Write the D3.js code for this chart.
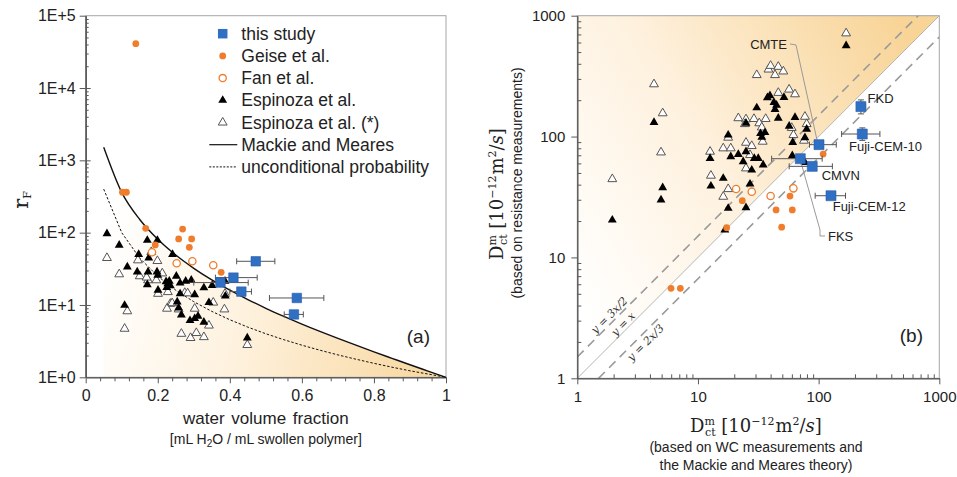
<!DOCTYPE html>
<html>
<head>
<meta charset="utf-8">
<script src="https://cdn.jsdelivr.net/npm/d3@7"></script>
<style>
  body { margin: 0; background: #fff; }
  svg text { font-family: "Liberation Sans", Arial, sans-serif; }
</style>
</head>
<body>
<div id="app"></div>
<script>
// ---------- panel (a): r_F vs water volume fraction ----------
const phiGrid = [0.05, 0.1, 0.15, 0.2, 0.25, 0.3, 0.35, 0.4, 0.45, 0.5, 0.55, 0.6, 0.65, 0.7, 0.75, 0.8, 0.85, 0.9, 0.95, 1];
const mackieRF = [1521, 361, 152, 81, 49, 32.1, 22.2, 16, 11.9, 9, 6.95, 5.44, 4.31, 3.45, 2.78, 2.25, 1.83, 1.49, 1.22, 1];
const uncondRF = [400, 100, 44.4, 25, 16, 11.1, 8.16, 6.25, 4.94, 4, 3.31, 2.78, 2.37, 2.04, 1.78, 1.56, 1.38, 1.23, 1.11, 1];

// [phi, rF, phi low, phi high]
const studyA = [
  [0.472, 40.2, 0.419, 0.525], [0.41, 23.9, 0.36, 0.476], [0.374, 20.4, 0.3, 0.451],
  [0.432, 15.3, 0.40, 0.46], [0.586, 12.5, 0.51, 0.661], [0.578, 7.4, 0.551, 0.604]
];
const geiseA = [
  [0.139, 41100], [0.102, 362], [0.113, 362], [0.1665, 115], [0.269, 112], [0.258, 82],
  [0.294, 82], [0.193, 67.6], [0.2876, 62.8], [0.376, 28.3]
];
const fanA = [[0.184, 53.6], [0.2525, 37.7], [0.296, 40.2], [0.354, 35.4]];
const espA = [
  [0.059, 97], [0.093, 67], [0.171, 78.5], [0.199, 78.5], [0.147, 50], [0.175, 44.7], [0.241, 50],
  [0.1155, 33.6], [0.143, 28.6], [0.173, 28.6], [0.198, 28.6], [0.2, 25.8], [0.171, 19.1], [0.228, 19.7],
  [0.232, 21.3], [0.2515, 25], [0.262, 20.1], [0.2775, 21.3], [0.293, 22], [0.328, 17.3], [0.2007, 16],
  [0.262, 14.3], [0.3025, 13.9], [0.108, 9.9], [0.254, 11], [0.258, 9.1], [0.2655, 7.3], [0.2895, 6.1],
  [0.3025, 6.5], [0.3117, 7], [0.328, 5.8], [0.3866, 21.3], [0.351, 18.7], [0.3875, 13.3], [0.342, 10.8],
  [0.4485, 3.5], [0.225, 17.5], [0.235, 18.5], [0.223, 21]
];
const espStarA = [
  [0.059, 44.7], [0.093, 26.6], [0.182, 54], [0.145, 41.5], [0.199, 40.6], [0.15, 25], [0.173, 22],
  [0.196, 22], [0.2007, 14.3], [0.228, 15.1], [0.275, 14.7], [0.235, 10.4], [0.2256, 8.9], [0.258, 8.7],
  [0.3025, 8.9], [0.1155, 8.2], [0.108, 4.7], [0.2655, 4.0], [0.291, 3.5], [0.307, 4.1], [0.328, 3.6],
  [0.3866, 14.3], [0.385, 8.7], [0.342, 5.2], [0.4485, 2.8], [0.2125, 27.4], [0.283, 14.5], [0.24, 10.6],
  [0.354, 10.8], [0.169, 24]
];

// ---------- panel (b): D_ct resistance vs D_ct WC ----------
// [x, y, x low, x high, y low, y high, name]
const studyB = [
  [224, 177, 207, 245, 154, 201, "FKD"],
  [230, 105, 155, 322, 93, 118, "Fuji-CEM-10"],
  [100.7, 85.7, 84, 140, 85.7, 85.7, "CMTE"],
  [70.5, 65.6, 40.8, 107, 65.6, 65.6, "FKS"],
  [88.5, 56.7, 57, 130, 56.7, 56.7, "CMVN"],
  [126.6, 32.4, 93.6, 167, 32.4, 32.4, "Fuji-CEM-12"]
];
const geiseB = [
  [109, 71.7], [23.3, 29.5], [17.3, 17.6], [57.9, 32.2], [44.4, 24.7], [60.5, 24.7], [49.4, 17.8],
  [5.98, 5.55], [7.14, 5.55]
];
const fanB = [[20.7, 36.8], [27.9, 35], [40, 32.2], [61.8, 37.3]];
const espB = [
  [1.95, 20.4], [4.32, 131], [5.1, 37.8], [4.94, 29.9], [12.6, 66], [12.8, 39], [16.2, 45.2], [17.8, 25.5],
  [25, 25.8], [16.7, 16.9], [17.8, 103], [18.7, 68.2], [21.6, 71.3], [25, 75], [23.7, 62], [27.9, 52.9],
  [27, 40.5], [25, 129], [29.3, 66], [31.6, 66], [34.7, 58.2], [30.7, 173], [33, 106], [33.8, 98.6],
  [35.9, 108], [37.6, 210], [39.5, 218], [42.6, 192], [44.8, 182], [43.5, 168], [46.3, 142], [51.6, 211],
  [57, 122], [63.7, 144], [61, 89.6], [60.5, 69.5], [77, 98], [79.6, 115], [77, 61.2], [169, 565]
];
const espStarB = [
  [1.95, 44.5], [4.32, 271], [5.1, 156], [4.94, 74], [12.6, 75], [12.8, 47.5], [16.2, 31.8], [17.8, 36.8],
  [16.2, 80], [18.7, 80], [17.8, 98], [21.6, 142], [25, 139], [24.5, 127], [29.1, 140], [32.2, 129],
  [33.8, 119], [36.4, 140], [25, 89], [27.9, 83.6], [27, 70.4], [25, 54.6], [34.4, 90.8], [30.7, 323],
  [38.4, 359], [40, 385], [46.3, 378], [51, 346], [43.5, 323], [46.3, 230], [56.9, 245], [63.7, 224],
  [59.8, 118], [61.8, 103], [77, 146], [79.6, 127], [75.6, 92.5], [169, 715]
];
const guideRatios = [1.5, 1, 2 / 3];
const guideNames = ["y = 3x/2", "y = x", "y = 2x/3"];

const legendItems = ["this study", "Geise et al.", "Fan et al.", "Espinoza et al.", "Espinoza et al. (*)", "Mackie and Meares", "unconditional probability"];

// ---------- drawing ----------
const width = 957, height = 477;
const BLUE = "#2f6fc4", ORANGE = "#ef7d2c", AXIS = "#595959", FRAME = "#a6a6a6";

const svg = d3.select("#app").append("svg").attr("width", width).attr("height", height);
svg.append("rect").attr("width", width).attr("height", height).attr("fill", "#fff");
const defs = svg.append("defs");

function gradient(id, x1, y1, x2, y2, stops) {
  const lg = defs.append("linearGradient").attr("id", id)
    .attr("x1", x1).attr("y1", y1).attr("x2", x2).attr("y2", y2);
  stops.forEach(s => lg.append("stop").attr("offset", s[0]).attr("stop-color", s[1]));
}
gradient("fillA", 0, 0.4, 1, 0.6, [[0, "#ffffff"], [0.45, "#fef2df"], [1, "#f9d9a4"]]);
gradient("fillB", 0, 0.8, 1, 0.2, [[0, "#ffffff"], [0.45, "#fef1de"], [1, "#f8d497"]]);

const tri = d3.symbol(d3.symbolTriangle, 34)();
const sq = s => d3.symbol(d3.symbolSquare, s * s)();

function drawPoints(g, data, x, y, kind) {
  const sel = g.append("g").selectAll("path").data(data).join("path")
    .attr("transform", d => `translate(${x(d[0])},${y(d[1])})`);
  if (kind === "esp") sel.attr("d", tri).attr("fill", "#000");
  if (kind === "espStar") sel.attr("d", tri).attr("fill", "#fff").attr("stroke", "#555").attr("stroke-width", 1);
  if (kind === "geise") sel.attr("d", d3.symbol(d3.symbolCircle, 36)()).attr("fill", ORANGE);
  if (kind === "fan") sel.attr("d", d3.symbol(d3.symbolCircle, 42)()).attr("fill", "#fff")
    .attr("stroke", ORANGE).attr("stroke-width", 1.3);
}

function drawStudy(g, data, x, y, size) {
  const eb = g.append("g").attr("stroke", "#555").attr("stroke-width", 1).attr("fill", "none");
  data.forEach(d => {
    const cy = y(d[1]), cx = x(d[0]);
    eb.append("line").attr("x1", x(d[2])).attr("x2", x(d[3])).attr("y1", cy).attr("y2", cy);
    eb.append("line").attr("x1", x(d[2])).attr("x2", x(d[2])).attr("y1", cy - 3).attr("y2", cy + 3);
    eb.append("line").attr("x1", x(d[3])).attr("x2", x(d[3])).attr("y1", cy - 3).attr("y2", cy + 3);
    if (d.length > 4 && d[4] !== d[5]) {
      eb.append("line").attr("x1", cx).attr("x2", cx).attr("y1", y(d[4])).attr("y2", y(d[5]));
      eb.append("line").attr("x1", cx - 3).attr("x2", cx + 3).attr("y1", y(d[4])).attr("y2", y(d[4]));
      eb.append("line").attr("x1", cx - 3).attr("x2", cx + 3).attr("y1", y(d[5])).attr("y2", y(d[5]));
    }
  });
  g.append("g").selectAll("path").data(data).join("path")
    .attr("d", sq(size))
    .attr("transform", d => `translate(${x(d[0])},${y(d[1])})`)
    .attr("fill", BLUE).attr("stroke", "#2a5ea8").attr("stroke-width", 0.6);
}

function logMinors(lo, hi) {
  const out = [];
  for (let d = lo; d < hi; d *= 10) for (let k = 2; k <= 9; k++) out.push(d * k);
  return out;
}

function styleAxis(g, size) {
  g.select(".domain").attr("stroke", AXIS);
  g.selectAll(".tick line").attr("stroke", AXIS);
  g.selectAll(".tick text").attr("fill", "#222").style("font-size", size + "px");
}

// rich text: parts = [text, fontSize, dy, dx, italic]
function rich(g, parts, family) {
  const t = g.append("text").attr("fill", "#222").style("font-family", family);
  parts.forEach(p => {
    const ts = t.append("tspan").text(p[0]).style("font-size", p[1] + "px");
    if (p[2]) ts.attr("dy", p[2]);
    if (p[3]) ts.attr("dx", p[3]);
    if (p[4]) ts.style("font-style", "italic");
  });
  return t;
}
const SERIF = "'DejaVu Serif', 'Liberation Serif', serif";

// ================= panel (a) =================
const xA = d3.scaleLinear().domain([0, 1]).range([85.7, 446]);
const yA = d3.scaleLog().domain([1, 1e5]).range([377.3, 15.7]);
const gA = svg.append("g");

const mmPairs = phiGrid.map((p, i) => [p, mackieRF[i]]);
const upPairs = phiGrid.map((p, i) => [p, uncondRF[i]]);

gA.append("path").datum(mmPairs)
  .attr("d", d3.area().x(d => xA(d[0])).y0(yA(1)).y1(d => yA(d[1])).curve(d3.curveMonotoneX))
  .attr("fill", "url(#fillA)");

gA.append("rect").attr("x", xA(0)).attr("y", yA(1e5))
  .attr("width", xA(1) - xA(0)).attr("height", yA(1) - yA(1e5))
  .attr("fill", "none").attr("stroke", FRAME);

const axYA = gA.append("g").attr("transform", `translate(${xA(0)},0)`)
  .call(d3.axisLeft(yA).tickValues([1, 10, 100, 1e3, 1e4, 1e5]).tickSize(6).tickSizeOuter(0).tickPadding(4)
    .tickFormat(d => "1E+" + Math.round(Math.log10(d))));
styleAxis(axYA, 16);
const axYAm = gA.append("g").attr("transform", `translate(${xA(0)},0)`)
  .call(d3.axisRight(yA).tickValues(logMinors(1, 1e5)).tickSize(3).tickSizeOuter(0).tickFormat(""));
styleAxis(axYAm, 10);
gA.append("g").attr("transform", `translate(${xA(0)},0)`)
  .call(d3.axisRight(yA).tickValues([10, 100, 1e3, 1e4]).tickSize(5).tickSizeOuter(0).tickFormat(""))
  .call(g => styleAxis(g, 10));

const axXA = gA.append("g").attr("transform", `translate(0,${yA(1)})`)
  .call(d3.axisBottom(xA).tickValues([0, 0.2, 0.4, 0.6, 0.8, 1]).tickSize(6).tickSizeOuter(0).tickPadding(6)
    .tickFormat(d => (d === 0 || d === 1) ? String(d) : d.toFixed(1)));
styleAxis(axXA, 16);
const axXAm = gA.append("g").attr("transform", `translate(0,${yA(1)})`)
  .call(d3.axisBottom(xA).tickValues(d3.range(1, 25).map(i => i * 0.04).filter(v => Math.abs(v * 5 - Math.round(v * 5)) > 1e-6))
    .tickSize(4).tickSizeOuter(0).tickFormat(""));
styleAxis(axXAm, 10);

const lineA = d3.line().x(d => xA(d[0])).y(d => yA(d[1]));
gA.append("path").datum(upPairs).attr("d", lineA)
  .attr("fill", "none").attr("stroke", "#111").attr("stroke-width", 1).attr("stroke-dasharray", "2.5,1.8");
gA.append("path").datum(mmPairs).attr("d", lineA.curve(d3.curveMonotoneX))
  .attr("fill", "none").attr("stroke", "#111").attr("stroke-width", 1.4);

drawPoints(gA, espStarA, xA, yA, "espStar");
drawPoints(gA, espA, xA, yA, "esp");
drawPoints(gA, fanA, xA, yA, "fan");
drawPoints(gA, geiseA, xA, yA, "geise");
drawStudy(gA, studyA, xA, yA, 9.5);

// legend
const leg = gA.append("g");
legendItems.forEach((name, i) => {
  const cy = 33.7 + i * 22.2, cx = 222.7;
  const row = leg.append("g");
  if (i === 0) row.append("path").attr("d", sq(9.5)).attr("transform", `translate(${cx},${cy})`).attr("fill", BLUE);
  if (i === 1) row.append("circle").attr("cx", cx).attr("cy", cy).attr("r", 3.4).attr("fill", ORANGE);
  if (i === 2) row.append("circle").attr("cx", cx).attr("cy", cy).attr("r", 3.6).attr("fill", "#fff").attr("stroke", ORANGE).attr("stroke-width", 1.3);
  if (i === 3) row.append("path").attr("d", tri).attr("transform", `translate(${cx},${cy})`).attr("fill", "#000");
  if (i === 4) row.append("path").attr("d", tri).attr("transform", `translate(${cx},${cy})`).attr("fill", "#fff").attr("stroke", "#555");
  if (i === 5) row.append("line").attr("x1", 209.3).attr("x2", 237.3).attr("y1", cy).attr("y2", cy).attr("stroke", "#111").attr("stroke-width", 1.2);
  if (i === 6) row.append("line").attr("x1", 209.3).attr("x2", 237.3).attr("y1", cy).attr("y2", cy).attr("stroke", "#111").attr("stroke-dasharray", "2,1.5");
  row.append("text").attr("x", 241.3).attr("y", cy + 6).attr("fill", "#222").style("font-size", "17.5px").text(name);
});

// axis titles (a)
gA.append("text").attr("x", (xA(0) + xA(1)) / 2).attr("y", 424).attr("text-anchor", "middle")
  .attr("fill", "#222").style("font-size", "17px").style("word-spacing", "2px").text("water volume fraction");
rich(gA, [["[mL H", 14], ["2", 10, 3], ["O / mL swollen polymer]", 14, -3]], "'Liberation Sans', Arial, sans-serif")
  .attr("x", (xA(0) + xA(1)) / 2).attr("y", 444).attr("text-anchor", "middle");
rich(gA, [["r", 21], ["F", 11, 3]], SERIF)
  .attr("transform", "translate(28,200) rotate(-90)").attr("text-anchor", "middle");
gA.append("text").attr("x", 430).attr("y", 343).attr("text-anchor", "end").attr("fill", "#222")
  .style("font-size", "19px").text("(a)");

// ================= panel (b) =================
const xB = d3.scaleLog().domain([1, 1000]).range([577.3, 939.3]);
const yB = d3.scaleLog().domain([1, 1000]).range([378.3, 15.7]);
const gB = svg.append("g");

defs.append("clipPath").attr("id", "clipB").append("rect")
  .attr("x", xB(1)).attr("y", yB(1000)).attr("width", xB(1000) - xB(1)).attr("height", yB(1) - yB(1000));

gB.append("path")
  .attr("d", d3.line()([[xB(1), yB(1)], [xB(1000), yB(1000)], [xB(1), yB(1000)]]) + "Z")
  .attr("fill", "url(#fillB)");

gB.append("rect").attr("x", xB(1)).attr("y", yB(1000))
  .attr("width", xB(1000) - xB(1)).attr("height", yB(1) - yB(1000))
  .attr("fill", "none").attr("stroke", FRAME);

// guide lines
const guides = gB.append("g").attr("clip-path", "url(#clipB)");
guideRatios.forEach(r => {
  guides.append("line")
    .attr("x1", xB(1)).attr("y1", yB(r)).attr("x2", xB(1000)).attr("y2", yB(1000 * r))
    .attr("stroke", r === 1 ? "#b5b5b5" : "#9a9a9a")
    .attr("stroke-width", r === 1 ? 1 : 1.6)
    .attr("stroke-dasharray", r === 1 ? null : "9,6");
});
// guide labels: x position along each line, offset normal to the line
const guideLabelX = [2.02, 2.6, 3.3];
const guideLabelOff = [7, 6, -8];
guideRatios.forEach((r, i) => {
  const px = xB(guideLabelX[i]), py = yB(guideLabelX[i] * r);
  const off = guideLabelOff[i];
  gB.append("text")
    .attr("transform", `translate(${px - off * Math.SQRT1_2},${py - off * Math.SQRT1_2}) rotate(-45)`)
    .attr("text-anchor", "middle").attr("dy", "0.35em")
    .attr("fill", "#333").style("font-family", SERIF).style("font-style", "italic").style("font-size", "11px")
    .text(guideNames[i]);
});

const decB = [1, 10, 100, 1000];
const axYB = gB.append("g").attr("transform", `translate(${xB(1)},0)`)
  .call(d3.axisLeft(yB).tickValues(decB).tickSize(6).tickSizeOuter(0).tickPadding(6).tickFormat(d3.format("d")));
styleAxis(axYB, 15);
gB.append("g").attr("transform", `translate(${xB(1)},0)`)
  .call(d3.axisRight(yB).tickValues(logMinors(1, 1000)).tickSize(4).tickSizeOuter(0).tickFormat(""))
  .call(g => styleAxis(g, 10));
const axXB = gB.append("g").attr("transform", `translate(0,${yB(1)})`)
  .call(d3.axisBottom(xB).tickValues(decB).tickSize(6).tickSizeOuter(0).tickPadding(7).tickFormat(d3.format("d")));
styleAxis(axXB, 15);
gB.append("g").attr("transform", `translate(0,${yB(1)})`)
  .call(d3.axisTop(xB).tickValues(logMinors(1, 1000)).tickSize(4).tickSizeOuter(0).tickFormat(""))
  .call(g => styleAxis(g, 10));

drawPoints(gB, espStarB, xB, yB, "espStar");
drawPoints(gB, espB, xB, yB, "esp");
drawPoints(gB, fanB, xB, yB, "fan");
drawPoints(gB, geiseB, xB, yB, "geise");

// leader lines for CMTE and FKS (pixel offsets from the marker)
const leaders = { CMTE: [[-29, -100.7], [-23, -99.7], [-2, -4.7]], FKS: [[0, 1.3], [19.7, 71.3], [19.7, 77.3], [24.7, 77.3]] };
const labelOff = {
  FKD: [6.7, -3.2, "start"], "Fuji-CEM-10": [-13.3, 17, "start"], CMTE: [-32, -95.7, "end"],
  FKS: [27.7, 82.3, "start"], CMVN: [9.4, 13.2, "start"], "Fuji-CEM-12": [1.7, 15.3, "start"]
};
studyB.forEach(d => {
  const cx = xB(d[0]), cy = yB(d[1]);
  if (leaders[d[6]]) {
    gB.append("path").attr("d", d3.line()(leaders[d[6]].map(p => [cx + p[0], cy + p[1]])))
      .attr("fill", "none").attr("stroke", "#9a9a9a").attr("stroke-width", 1);
  }
});
drawStudy(gB, studyB, xB, yB, 10);
studyB.forEach(d => {
  const o = labelOff[d[6]];
  gB.append("text").attr("x", xB(d[0]) + o[0]).attr("y", yB(d[1]) + o[1]).attr("text-anchor", o[2])
    .attr("fill", "#222").style("font-size", "13px").text(d[6]);
});

gB.append("text").attr("x", 923).attr("y", 342).attr("text-anchor", "end").attr("fill", "#222")
  .style("font-size", "19px").text("(b)");

// axis titles (b)
const dctParts = [["D", 18], ["m", 11, -7], ["ct", 11, 10.5, -10], [" [10", 18, -3.5], ["\u221212", 11, -7], ["m", 18, 7, 1], ["2", 11, -7], ["/", 18, 7], ["s", 18, 0, 0, true], ["]", 18]];
rich(gB, dctParts, SERIF).attr("x", 756).attr("y", 432).attr("text-anchor", "middle");
gB.append("text").attr("x", 756).attr("y", 452).attr("text-anchor", "middle").attr("fill", "#222")
  .style("font-size", "14px").text("(based on WC measurements and");
gB.append("text").attr("x", 756).attr("y", 470).attr("text-anchor", "middle").attr("fill", "#222")
  .style("font-size", "14px").text("the Mackie and Meares theory)");

rich(gB, dctParts, SERIF).attr("transform", "translate(503,194) rotate(-90)").attr("text-anchor", "middle");
gB.append("text").attr("transform", "translate(522,183) rotate(-90)").attr("text-anchor", "middle")
  .attr("fill", "#222").style("font-size", "14px").text("(based on resistance measurements)");
</script>
</body>
</html>
